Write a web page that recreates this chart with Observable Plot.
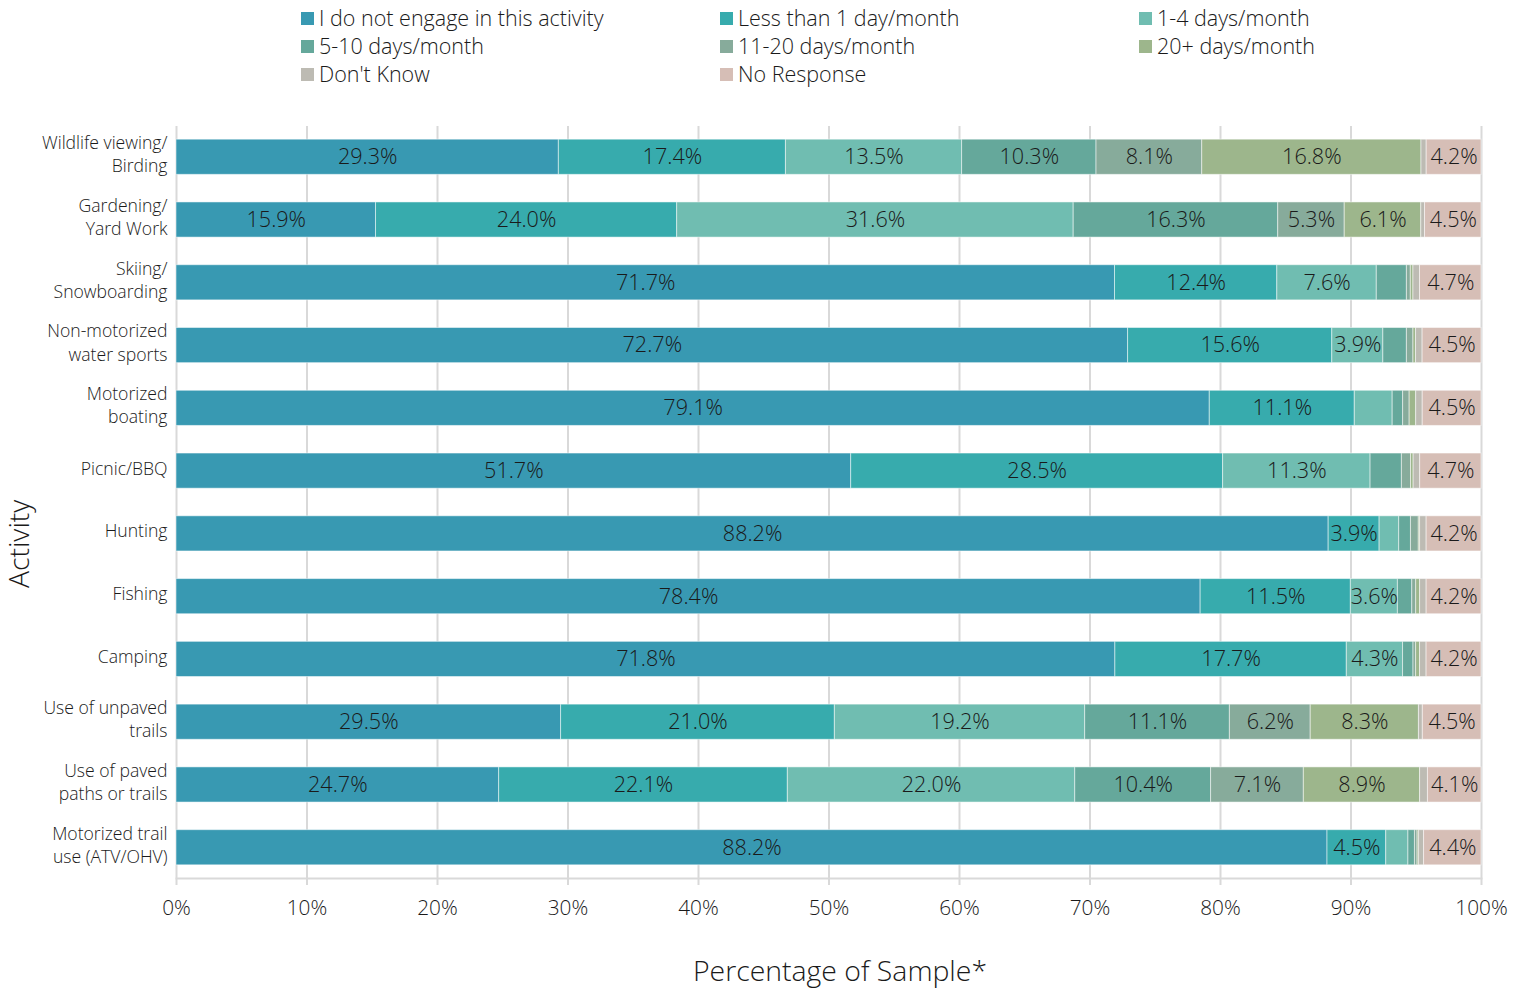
<!DOCTYPE html>
<html>
<head>
<meta charset="utf-8">
<script src="https://cdn.jsdelivr.net/npm/d3@7"></script>
<script src="https://cdn.jsdelivr.net/npm/@observablehq/plot@0.6"></script>
<style>
  html, body { margin: 0; padding: 0; background: #fff; }
  body { width: 1525px; height: 992px; overflow: hidden; font-family: "Open Sans", sans-serif; font-weight: 300; color: #1a1a1a; }
  #legend { position: relative; width: 1525px; height: 100px; }
  .item { position: absolute; display: flex; align-items: center; font-size: 21.5px; line-height: 1; white-space: nowrap; }
  .sw { width: 13px; height: 13px; margin-right: 5px; flex: none; }
  #chart svg { display: block; font-family: "Open Sans", sans-serif; font-weight: 300; }
</style>
</head>
<body>
<div id="legend"></div>
<div id="chart"></div>
<script>
const activities = [
  "Wildlife viewing/\nBirding",
  "Gardening/\nYard Work",
  "Skiing/\nSnowboarding",
  "Non-motorized\nwater sports",
  "Motorized\nboating",
  "Picnic/BBQ",
  "Hunting",
  "Fishing",
  "Camping",
  "Use of unpaved\ntrails",
  "Use of paved\npaths or trails",
  "Motorized trail\nuse (ATV/OHV)"
];
const categories = [
  "I do not engage in this activity",
  "Less than 1 day/month",
  "1-4 days/month",
  "5-10 days/month",
  "11-20 days/month",
  "20+ days/month",
  "Don't Know",
  "No Response"
];
const colors = ["#3899b2", "#37abad", "#70bdb1", "#65a89b", "#87ab9b", "#9db68c", "#bdbbb3", "#d6beb6"];

const notEngage = [29.3, 15.9, 71.7, 72.7, 79.1, 51.7, 88.2, 78.4, 71.8, 29.5, 24.7, 88.2];
const lessThan1 = [17.4, 24.0, 12.4, 15.6, 11.1, 28.5, 3.9, 11.5, 17.7, 21.0, 22.1, 4.5];
const days1to4  = [13.5, 31.6, 7.6, 3.9, 2.9, 11.3, 1.5, 3.6, 4.3, 19.2, 22.0, 1.7];
const days5to10 = [10.3, 16.3, 2.3, 1.8, 0.8, 2.4, 0.9, 1.1, 0.8, 11.1, 10.4, 0.5];
const days11to20 = [8.1, 5.3, 0.3, 0.5, 0.5, 0.7, 0.6, 0.3, 0.2, 6.2, 7.1, 0.2];
const days20plus = [16.8, 6.1, 0.2, 0.2, 0.5, 0.2, 0.1, 0.3, 0.3, 8.3, 8.9, 0.1];
const dontKnow  = [0.4, 0.3, 0.5, 0.5, 0.5, 0.5, 0.5, 0.5, 0.5, 0.3, 0.6, 0.4];
const noResponse = [4.2, 4.5, 4.7, 4.5, 4.5, 4.7, 4.2, 4.2, 4.2, 4.5, 4.1, 4.4];

const xTicks = [0, 0.1, 0.2, 0.3, 0.4, 0.5, 0.6, 0.7, 0.8, 0.9, 1.0];
const xLabel = "Percentage of Sample*";
const yLabel = "Activity";

const series = [notEngage, lessThan1, days1to4, days5to10, days11to20, days20plus, dontKnow, noResponse];
const data = [];
activities.forEach((a, i) => {
  categories.forEach((c, j) => {
    data.push({activity: a, category: c, value: series[j][i]});
  });
});

// Legend (HTML, above the SVG)
const legend = document.getElementById("legend");
const colX = [301, 720, 1139];
const rowY = [18, 46, 74];
categories.forEach((c, j) => {
  const el = document.createElement("div");
  el.className = "item";
  el.style.left = colX[j % 3] + "px";
  el.style.top = (rowY[Math.floor(j / 3)] - 11) + "px";
  el.style.height = "22px";
  el.innerHTML = `<span class="sw" style="background:${colors[j]}"></span><span>${c}</span>`;
  legend.appendChild(el);
});

const chart = Plot.plot({
  width: 1525,
  height: 892,
  marginTop: 26,
  marginBottom: 114,
  marginLeft: 176,
  marginRight: 44,
  style: {fontFamily: "Open Sans, sans-serif", color: "#1a1a1a"},
  x: {domain: [0, 1], ticks: xTicks, tickFormat: d3.format(".0%"), label: null},
  y: {domain: activities, paddingInner: 0.44, paddingOuter: 0.21, round: false, label: null},
  color: {domain: categories, range: colors},
  marks: [
    Plot.gridX(xTicks, {stroke: "#d9d9d9", strokeOpacity: 1, strokeWidth: 2}),
    Plot.axisX(xTicks, {tickSize: 7, tickPadding: 15, stroke: "#d9d9d9", strokeWidth: 2, fontSize: 20.8, fill: "#1a1a1a", tickFormat: d3.format(".0%"), label: null}),
    Plot.frame({anchor: "bottom", stroke: "#d9d9d9", strokeWidth: 2}),
    Plot.axisY({tickSize: 0, tickPadding: 9, fontSize: 17.6, fill: "#1a1a1a", lineHeight: 1.32, dy: -4, label: null}),
    Plot.barX(data, Plot.stackX({
      x: "value", y: "activity", fill: "category", offset: "normalize",
      stroke: "white", strokeWidth: 1, strokeOpacity: 0.5
    })),
    Plot.text(data, Plot.stackX({
      x: "value", y: "activity", z: "category", offset: "normalize",
      text: d => d.value >= 3.5 ? d.value.toFixed(1) + "%" : "",
      fontSize: 21.6, fill: "#1a1a1a"
    })),
    Plot.text([xLabel], {text: d => d, frameAnchor: "bottom", dy: 102, dx: 11, fontSize: 28.4, fill: "#1a1a1a"}),
    Plot.text([yLabel], {text: d => d, x: () => -0.12, y: () => activities[6], rotate: -90, dy: 10, fontSize: 28.4, fill: "#1a1a1a"})
  ]
});
document.getElementById("chart").appendChild(chart);
</script>
</body>
</html>
